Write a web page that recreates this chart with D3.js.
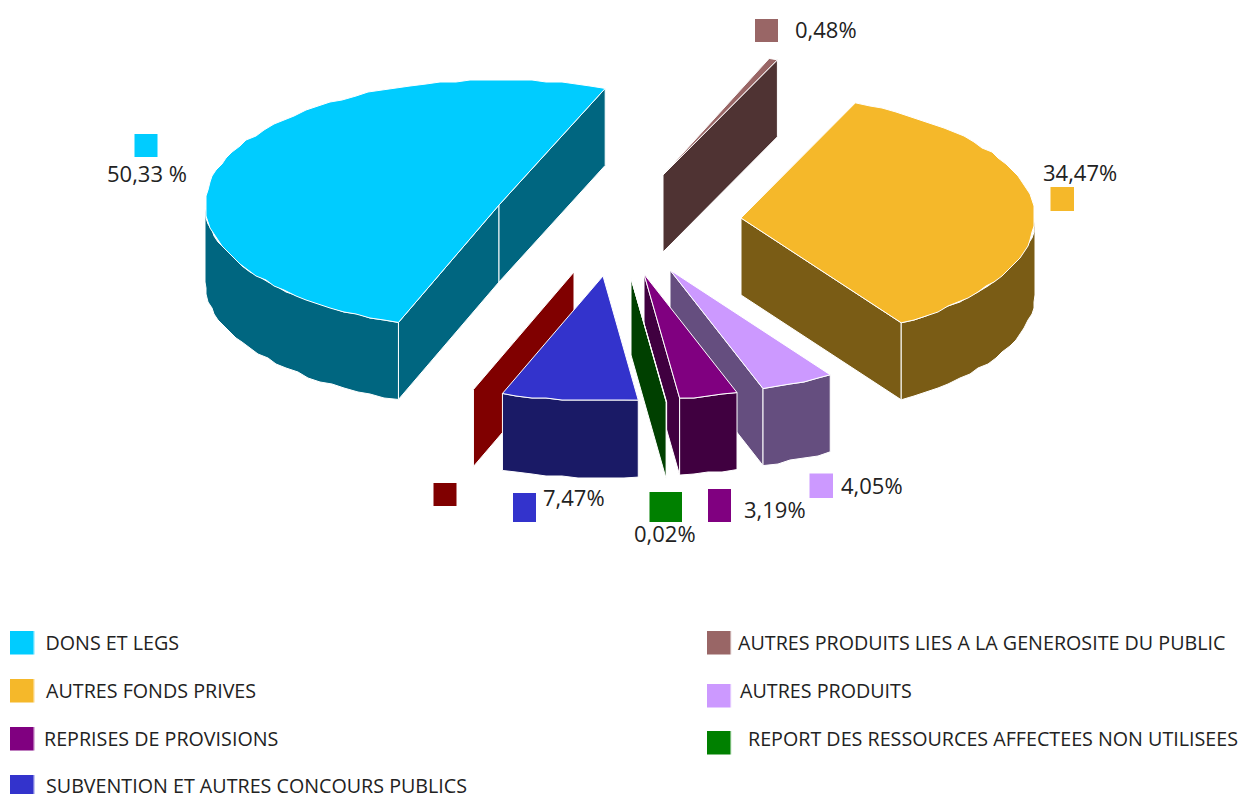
<!DOCTYPE html>
<html><head><meta charset="utf-8">
<script src="https://cdnjs.cloudflare.com/ajax/libs/d3/7.8.5/d3.min.js"></script>
<style>html,body{margin:0;padding:0;background:#fff;overflow:hidden}svg{display:block}
text{font-family:"Open Sans",sans-serif;fill:#222}
text.v{font-size:22px}text.l{font-size:19.7px}</style>
</head><body><svg id="c" width="1239" height="794"></svg>
<script>
// Data
const categories = ["DONS ET LEGS","AUTRES PRODUITS LIES A LA GENEROSITE DU PUBLIC","AUTRES FONDS PRIVES","AUTRES PRODUITS","REPRISES DE PROVISIONS","REPORT DES RESSOURCES AFFECTEES NON UTILISEES","SUBVENTION ET AUTRES CONCOURS PUBLICS","AUTRES"];
const values = [50.33,0.48,34.47,4.05,3.19,0.02,7.47,0];
const valueLabels = ["50,33 %","0,48%","34,47%","4,05%","3,19%","0,02%","7,47%",""];
// Styles
const topColors  = ["#00ccff","#996666","#f5b82a","#cc99ff","#800080","#008000","#3333cc","#800000"];
const sideColors = ["#006680","#4f3333","#7a5c15","#654e7f","#400040","#004000","#1a1a66","#800000"];
// Layout: apex of every exploded slice
const apexX = [499,663,741,670,644,631,603,574];
const apexY = [205,175,218,270,274,278,276,272];
const drawOrder = [0,1,2,3,4,5,7,6];
const markerBox = [[134.5,134,23,23],[755,19,23,23],[1050.5,187,23.5,24],[809.5,473.5,23.5,24.5],[708,489,23,33],[649.5,492,32.5,30],[513,493,23,29],[433.5,483,23,23]];
const labelPos = [[107,182],[795,38],[1043,181],[841,494],[744,518],[634,542],[543,506]];
const legendOrder = [0,2,4,6,1,3,5];
const legendBox = [[10,631],[10,679],[10,727],[10,775],[707,631],[707,684],[707,731]];
const legendText = [[45.5,650],[46,698],[44,746],[46,793],[738,650],[740,698],[748,746]];

const rx = 294, ry = 125, depth = 77, grid = 2;
const svg = d3.select("#c");
const sx = d3.scaleLinear().domain([-1,1]).range([-rx,rx]);
const sy = d3.scaleLinear().domain([-1,1]).range([-ry,ry]);
const slices = d3.pie().sort(null).value(d=>d)
  .startAngle(200*Math.PI/180).endAngle(560*Math.PI/180)(values);
const line = d3.line();
const STEP = 3*Math.PI/180;
function pt(i,a,dz){return [apexX[i]+sx(Math.sin(a)), apexY[i]+sy(-Math.cos(a))+(dz||0)];}
function arcPts(i,a0,a1,dz){
  const n=Math.max(1,Math.ceil((a1-a0)/STEP));
  return d3.range(n+1).map(k=>{
    const p=pt(i,a0+(a1-a0)*k/n,dz);
    if(k===0||k===n) return p;
    // the reference rim is a slightly stepped outline
    return [Math.round(p[0]/grid)*grid,Math.round(p[1]/grid)*grid];
  });
}
function poly(pts,fill,sw){
  svg.append("path").attr("d",line(pts)+"Z").attr("fill",fill)
    .attr("stroke","#fff").attr("stroke-width",sw).attr("stroke-linejoin","round");
}
drawOrder.forEach(i=>{
  const s=slices[i];
  const shift=s.startAngle>=2*Math.PI-1e-9?2*Math.PI:0;
  const a0=s.startAngle-shift,a1=s.endAngle-shift,c=[apexX[i],apexY[i]],cd=[apexX[i],apexY[i]+depth];
  const face=a=>poly([c,pt(i,a),pt(i,a,depth),cd],sideColors[i],1);
  if(Math.sin(a0)<-0.01) face(a0);
  if(Math.sin(a1)>0.01) face(a1);
  // visible outer wall: the part of the rim that faces the viewer
  const lo=Math.max(a0,Math.PI/2),hi=Math.min(a1,1.5*Math.PI);
  if(hi>lo+1e-6){
    poly(arcPts(i,lo,hi,0).concat(arcPts(i,lo,hi,depth).reverse()),sideColors[i],1);
  }
  if(a1>a0) poly([c].concat(arcPts(i,a0,a1,0)),topColors[i],1);
});
// Value markers and labels
markerBox.forEach((b,i)=>{
  svg.append("rect").attr("x",b[0]).attr("y",b[1]).attr("width",b[2]).attr("height",b[3])
    .attr("fill",topColors[i]);
});
labelPos.forEach((p,i)=>{
  svg.append("text").attr("class","v").attr("x",p[0]).attr("y",p[1]).text(valueLabels[i]);
});
// Legend
legendOrder.forEach((c,k)=>{
  svg.append("rect").attr("x",legendBox[k][0]).attr("y",legendBox[k][1]).attr("width",23.5).attr("height",23.5)
    .attr("fill",topColors[c]);
  svg.append("rect").attr("x",legendBox[k][0]+23.5).attr("y",legendBox[k][1]).attr("width",1).attr("height",23.5)
    .attr("fill",topColors[c]).attr("opacity",k<4?0.55:0.2);
  svg.append("text").attr("class","l").attr("x",legendText[k][0]).attr("y",legendText[k][1]).text(categories[c]);
});
</script></body></html>
